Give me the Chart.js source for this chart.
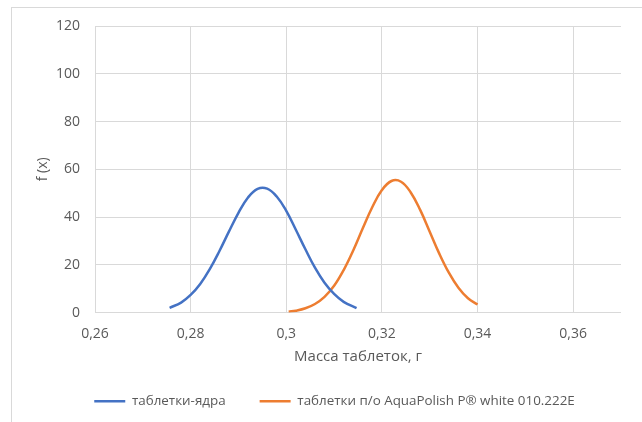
<!DOCTYPE html>
<html><head><meta charset="utf-8">
<script src="https://cdn.jsdelivr.net/npm/chart.js@4/dist/chart.umd.min.js"></script>
<style>
html,body{margin:0;padding:0;background:#fff;overflow:hidden;}
#frame{position:absolute;left:11px;top:7px;width:700px;height:500px;border-left:1px solid #d9d9d9;border-top:1px solid #d9d9d9;}
#wrap{position:absolute;left:0;top:0;width:642px;height:422px;}
</style></head><body>
<div id="frame"></div>
<div id="wrap"><canvas id="c" width="642" height="422"></canvas></div>
<script>
// Data
const coreX = [0.2756, 0.278, 0.280, 0.282, 0.284, 0.286, 0.288, 0.290, 0.292, 0.294, 0.296, 0.298, 0.300, 0.302, 0.304, 0.306, 0.308, 0.310, 0.312, 0.3147];
const coreY = [2.0, 4.2, 7.4, 12.0, 18.2, 25.7, 33.9, 41.8, 48.2, 51.8, 51.9, 48.6, 42.6, 34.7, 26.5, 18.8, 12.5, 7.8, 4.5, 1.9];
const coatedX = [0.3005, 0.302, 0.304, 0.306, 0.308, 0.310, 0.312, 0.314, 0.316, 0.318, 0.320, 0.322, 0.324, 0.326, 0.328, 0.330, 0.332, 0.334, 0.336, 0.338, 0.340];
const coatedY = [0.4, 0.8, 1.8, 3.6, 6.6, 11.2, 17.8, 26.0, 35.3, 44.2, 51.3, 55.1, 54.8, 50.4, 43.0, 33.9, 24.7, 16.7, 10.4, 6.0, 3.4];
const seriesNames = ['таблетки-ядра', 'таблетки п/о AquaPolish P® white 010.222E'];
const xTicks = [0.26, 0.28, 0.30, 0.32, 0.34, 0.36];
const xTickLabels = ['0,26', '0,28', '0,3', '0,32', '0,34', '0,36'];
const yTicks = [0, 20, 40, 60, 80, 100, 120];
const xTitle = 'Масса таблеток, г';
const yTitle = 'f (x)';

const toPts = (xs, ys) => xs.map((x, i) => ({x: x, y: ys[i]}));
const TXT = '#595959';
const GRID = '#d9d9d9';
const FONT = 'Open Sans';

new Chart(document.getElementById('c'), {
  type: 'scatter',
  data: {
    datasets: [
      {label: seriesNames[0], data: toPts(coreX, coreY), showLine: true, borderColor: '#4472C4', backgroundColor: '#4472C4', borderWidth: 2.5, pointRadius: 0, tension: 0.4},
      {label: seriesNames[1], data: toPts(coatedX, coatedY), showLine: true, borderColor: '#ED7D31', backgroundColor: '#ED7D31', borderWidth: 2.5, pointRadius: 0, tension: 0.4}
    ]
  },
  options: {
    responsive: false,
    animation: false,
    layout: {padding: {left: 48, right: 21, top: 26, bottom: 4}},
    plugins: {
      tooltip: {enabled: false},
      legend: {
        position: 'bottom',
        align: 'center',
        labels: {
          usePointStyle: true, pointStyle: 'line', pointStyleWidth: 31,
          color: TXT, padding: 34, font: {family: FONT, size: 13.4}
        }
      }
    },
    scales: {
      x: {
        type: 'linear', min: 0.26, max: 0.37,
        afterBuildTicks: s => { s.ticks = xTicks.map(v => ({value: v})); },
        afterFit: s => { s.height = 48; },
        ticks: {color: TXT, font: {family: FONT, size: 14}, padding: 13, maxRotation: 0,
          callback: (v) => { const i = xTicks.findIndex(t => Math.abs(t - v) < 1e-9); return i >= 0 ? xTickLabels[i] : ''; }},
        grid: {color: GRID, lineWidth: 1, drawTicks: false},
        border: {display: false},
        title: {display: true, text: xTitle, color: TXT, font: {family: FONT, size: 15}, padding: {top: 0, bottom: -5.5}}
      },
      y: {
        min: 0, max: 120,
        afterBuildTicks: s => { s.ticks = yTicks.map(v => ({value: v})); },
        afterFit: s => { s.width = 47; },
        ticks: {color: TXT, font: {family: FONT, size: 14}, padding: 15},
        grid: {color: GRID, lineWidth: 1, drawTicks: false},
        border: {display: false},
        title: {display: true, text: yTitle, color: TXT, font: {family: FONT, size: 14}, padding: {top: -13.4, bottom: 0}}
      }
    }
  }
});
</script>
</body></html>
